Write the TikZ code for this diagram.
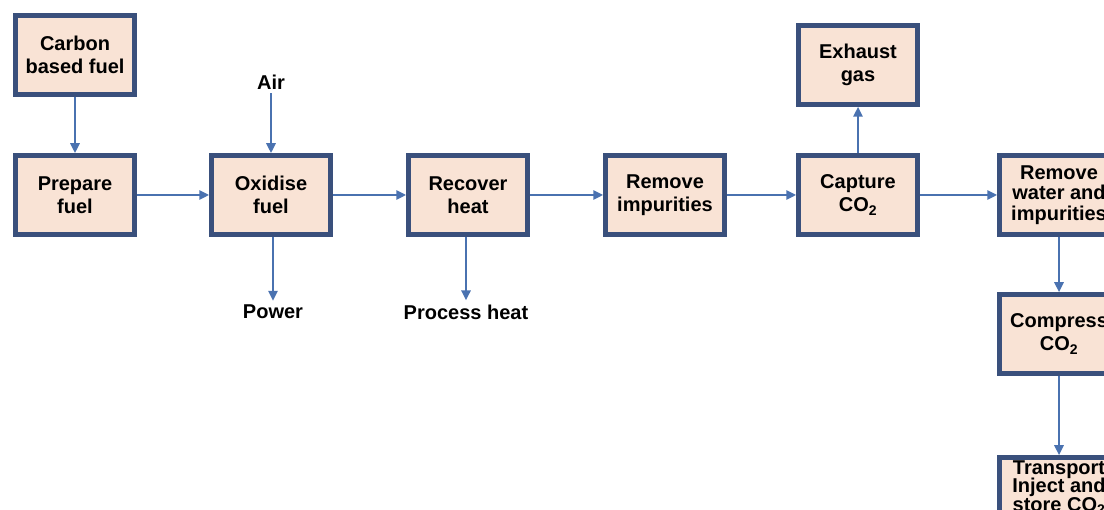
\documentclass[tikz,border=0pt]{standalone}
\usepackage{fontspec}
\setmainfont{Liberation Sans}
\usetikzlibrary{arrows.meta}

\definecolor{boxfill}{RGB}{249,227,213}
\definecolor{boxline}{RGB}{58,80,124}
\definecolor{flowline}{RGB}{74,114,176}
\newcommand\tightlines{\lineskiplimit=-8pt\relax}

\begin{document}
\begin{tikzpicture}[x=1pt,y=-1pt,
box/.style={rectangle, draw=boxline, fill=boxfill, line width=4.5pt,
                minimum width=119pt, minimum height=79pt, inner sep=2pt,
                align=center, font=\bfseries\fontsize{20}{23}\selectfont},
lbl/.style={inner sep=4pt, font=\bfseries\fontsize{20}{23}\selectfont},
flow/.style={draw=flowline, line width=2.5pt, -{Triangle[length=10pt,width=9pt]}}]
    \useasboundingbox (0,0) rectangle (1104,510);
    \clip (0,0) rectangle (1104,510);
    % main line
    \node[box] (carbon) at (75,55) {Carbon\\based fuel};
    \node[box] (prepare) at (75,195) {Prepare\\fuel};
    \node[box] (oxidise) at (271,195) {Oxidise\\fuel};
    \node[box] (recover) at (468,195) {Recover\\heat};
    \node[box] (impure) at (665,195) {Remove\\impurities};
    \node[box] (capture) at (858,195) {Capture\\CO\textsubscript{2}};
    \node[box] (exhaust) at (858,65) {Exhaust\\gas};
    \node[box, font=\bfseries\fontsize{20}{20.5}\selectfont\tightlines] (water) at (1059,195) {Remove\\water and\\impurities};
    \node[box] (compress) at (1059,334) {Compress\\CO\textsubscript{2}};
    \node[box, text depth=22pt, font=\bfseries\fontsize{20}{18.5}\selectfont\tightlines] (store) at (1059,497) {Transport\\Inject and\\store CO\textsubscript{2}};
    % side streams
    \node[lbl] (air) at (271,82) {Air};
    \node[lbl] (power) at (273,312) {Power};
    \node[lbl] (pheat) at (466,312) {Process heat};

    \draw[flow] (carbon) -- (prepare);
    \draw[flow] (prepare) -- (oxidise);
    \draw[flow] (oxidise) -- (recover);
    \draw[flow] (recover) -- (impure);
    \draw[flow] (impure) -- (capture);
    \draw[flow] (capture) -- (water);
    \draw[flow] (capture) -- (exhaust);
    \draw[flow] (water) -- (compress);
    \draw[flow] (compress) -- (store);
    \draw[flow] (air) -- (oxidise);
    \draw[flow] (oxidise.south -| power) -- (power);
    \draw[flow] (recover.south -| pheat) -- (pheat);
\end{tikzpicture}
\end{document}
